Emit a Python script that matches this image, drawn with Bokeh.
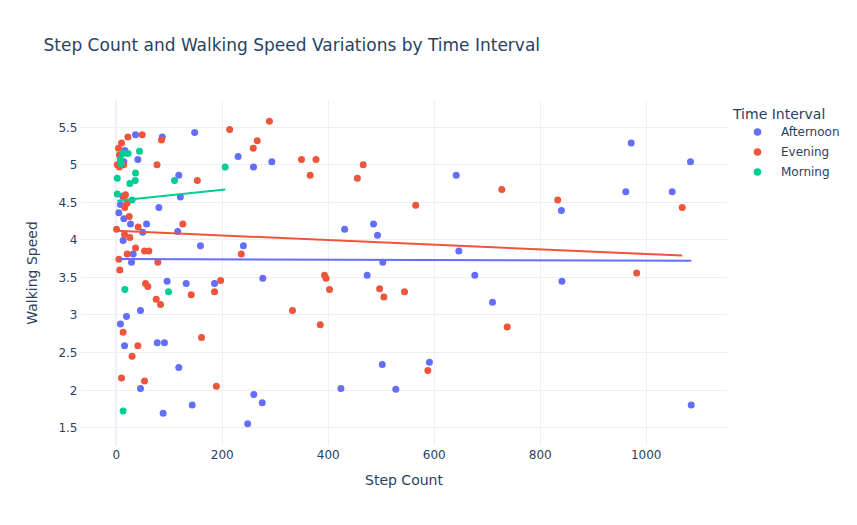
from bokeh.plotting import figure
from bokeh.models import Range1d, FixedTicker, Legend, LegendItem, Span, Title
from bokeh.embed import file_html
from bokeh.resources import INLINE

# ---------------- data ----------------
afternoon_steps = [36.4, 86.8, 148, 16.3, 40.8, 259, 230, 293.6, 118, 12.5, 121, 8, 80.5, 5,
                   14.4, 27, 57.2, 50, 116, 13, 159, 240, 32, 28.9, 96, 132, 185.5, 276.6,
                   45.8, 19.4, 8, 15.7, 77.4, 91, 118, 45.8, 259.6, 275.5, 88.6, 143.4, 248,
                   424, 641.5, 431, 485.5, 493, 646.5, 503, 473.5, 676.6, 710, 502, 591, 527.5,
                   971.7, 1083.6, 840, 961.5, 1049, 841, 1085, 14.4]
afternoon_speed = [5.40, 5.37, 5.43, 5.19, 5.07, 4.97, 5.11, 5.04, 4.86, 4.58, 4.57, 4.47, 4.43, 4.36,
                   4.28, 4.21, 4.21, 4.10, 4.11, 3.99, 3.92, 3.92, 3.81, 3.70, 3.45, 3.42, 3.42, 3.49,
                   3.06, 2.98, 2.88, 2.59, 2.63, 2.63, 2.30, 2.02, 1.94, 1.83, 1.69, 1.80, 1.55,
                   2.02, 4.86, 4.14, 4.21, 4.06, 3.85, 3.70, 3.53, 3.53, 3.17, 2.34, 2.37, 2.01,
                   5.29, 5.04, 4.39, 4.64, 4.64, 3.45, 1.80, 5.04]

evening_steps = [49, 85.5, 214, 289, 22, 10, 4.3, 2, 6, 14, 77, 258.5, 266, 153, 17.5, 14.4,
                 20.7, 16.2, 24.5, 41.5, 125.7, 0.6, 15.7, 25.7, 36.4, 236, 5, 20.7, 53.4, 61.5,
                 78.5, 6.8, 55.3, 59.6, 197, 185.5, 141.5, 75.5, 83.6, 13, 161, 40.8, 30, 10,
                 53.4, 189, 349.6, 377, 366, 393, 396, 402.5, 332.6, 385, 466, 455, 727.5, 565,
                 497, 505, 544, 737.7, 588, 833, 1068, 982, 6]
evening_speed = [5.40, 5.33, 5.47, 5.58, 5.37, 5.29, 5.22, 5.00, 4.97, 5.00, 5.00, 5.22, 5.32, 4.79, 4.60, 4.56,
                 4.49, 4.43, 4.31, 4.17, 4.21, 4.14, 4.07, 4.03, 3.89, 3.81, 3.74, 3.81, 3.85, 3.85,
                 3.70, 3.60, 3.42, 3.38, 3.46, 3.31, 3.27, 3.21, 3.14, 2.77, 2.70, 2.59, 2.45, 2.16,
                 2.12, 2.05, 5.07, 5.07, 4.86, 3.53, 3.49, 3.34, 3.06, 2.87, 5.00, 4.82, 4.67, 4.46,
                 3.35, 3.24, 3.31, 2.84, 2.26, 4.53, 4.43, 3.56, 5.13]

morning_steps = [13, 22.5, 44, 8, 9.4, 205.6, 36.4, 2, 110, 35.8, 25.7, 2, 30, 16.3, 98.7, 13]
morning_speed = [5.15, 5.15, 5.18, 5.07, 5.01, 4.97, 4.89, 4.82, 4.79, 4.79, 4.75, 4.61, 4.53, 3.34, 3.31, 1.72]

# OLS trend lines (end points)
afternoon_trend_steps = [5, 1085]
afternoon_trend_speed = [3.745, 3.72]
evening_trend_steps = [0.6, 1068]
evening_trend_speed = [4.12, 3.79]
morning_trend_steps = [2, 205.6]
morning_trend_speed = [4.52, 4.67]

group_names = ["Afternoon", "Evening", "Morning"]
group_colors = ["#636efa", "#EF553B", "#00cc96"]

x_ticks = [0, 200, 400, 600, 800, 1000]
y_ticks = [1.5, 2, 2.5, 3, 3.5, 4, 4.5, 5, 5.5]
y_tick_labels = ["1.5", "2", "2.5", "3", "3.5", "4", "4.5", "5", "5.5"]

title_text = "Step Count and Walking Speed Variations by Time Interval"
x_title = "Step Count"
y_title = "Walking Speed"
legend_title = "Time Interval"

# ---------------- styling ----------------
FONT = "DejaVu Sans"
TXT = "#2a3f5f"
GRID = "#EBF0F8"

p = figure(
    frame_width=647, frame_height=345,
    x_range=Range1d(-67.4, 1153.4), y_range=Range1d(1.262, 5.855),
    output_backend="svg", toolbar_location=None,
    min_border_left=80, min_border_top=100, min_border_bottom=72, min_border_right=120,
    background_fill_color="white", border_fill_color="white",
)
p.outline_line_color = None

# blank spacer panel between the frame and the title
spacer = Title(text=" ", text_font=FONT, text_font_size="1px", standoff=43, text_color="white")
p.add_layout(spacer, "above")
t = Title(text=title_text, align="left", offset=-37, standoff=0,
          text_font=FONT, text_font_size="17px", text_font_style="normal", text_color=TXT)
p.add_layout(t, "above")

for ax in (p.xaxis[0], p.yaxis[0]):
    ax.axis_line_color = None
    ax.major_tick_line_color = None
    ax.minor_tick_line_color = None
    ax.major_tick_out = 0
    ax.major_tick_in = 0
    ax.minor_tick_out = 0
    ax.major_label_text_font = FONT
    ax.major_label_text_font_size = "12px"
    ax.major_label_text_color = TXT
    ax.axis_label_text_font = FONT
    ax.axis_label_text_font_size = "14px"
    ax.axis_label_text_font_style = "normal"
    ax.axis_label_text_color = TXT

p.xaxis[0].ticker = FixedTicker(ticks=x_ticks)
p.yaxis[0].ticker = FixedTicker(ticks=y_ticks)
p.yaxis[0].major_label_overrides = {v: s for v, s in zip(y_ticks, y_tick_labels)}
p.xaxis[0].axis_label = x_title
p.yaxis[0].axis_label = y_title
p.xaxis[0].major_label_standoff = 4
p.yaxis[0].major_label_standoff = 3
p.xaxis[0].axis_label_standoff = 10
p.yaxis[0].axis_label_standoff = 15

p.xgrid.grid_line_color = GRID
p.ygrid.grid_line_color = GRID
p.xgrid.grid_line_width = 1
p.ygrid.grid_line_width = 1
p.add_layout(Span(location=0, dimension="height", line_color=GRID, line_width=2, level="underlay"))

groups = [
    (afternoon_steps, afternoon_speed, afternoon_trend_steps, afternoon_trend_speed),
    (evening_steps, evening_speed, evening_trend_steps, evening_trend_speed),
    (morning_steps, morning_speed, morning_trend_steps, morning_trend_speed),
]

items = []
for (xs, ys, tx, ty), name, col in zip(groups, group_names, group_colors):
    r = p.scatter(xs, ys, size=7, fill_color=col, line_color=col, line_width=0)
    items.append(LegendItem(label=name, renderers=[r]))
for (xs, ys, tx, ty), name, col in zip(groups, group_names, group_colors):
    p.line(tx, ty, line_color=col, line_width=2)

legend = Legend(items=items, location="top_left", title=legend_title,
                title_text_font=FONT, title_text_font_size="14px", title_text_font_style="normal",
                title_text_color=TXT, title_standoff=0,
                label_text_font=FONT, label_text_font_size="12px", label_text_color=TXT,
                label_height=19, glyph_height=19, glyph_width=48, label_standoff=-1, spacing=1,
                margin=6, padding=4, border_line_color=None, background_fill_alpha=0)
p.add_layout(legend, "right")

open("out.html", "w").write(file_html(p, INLINE))
